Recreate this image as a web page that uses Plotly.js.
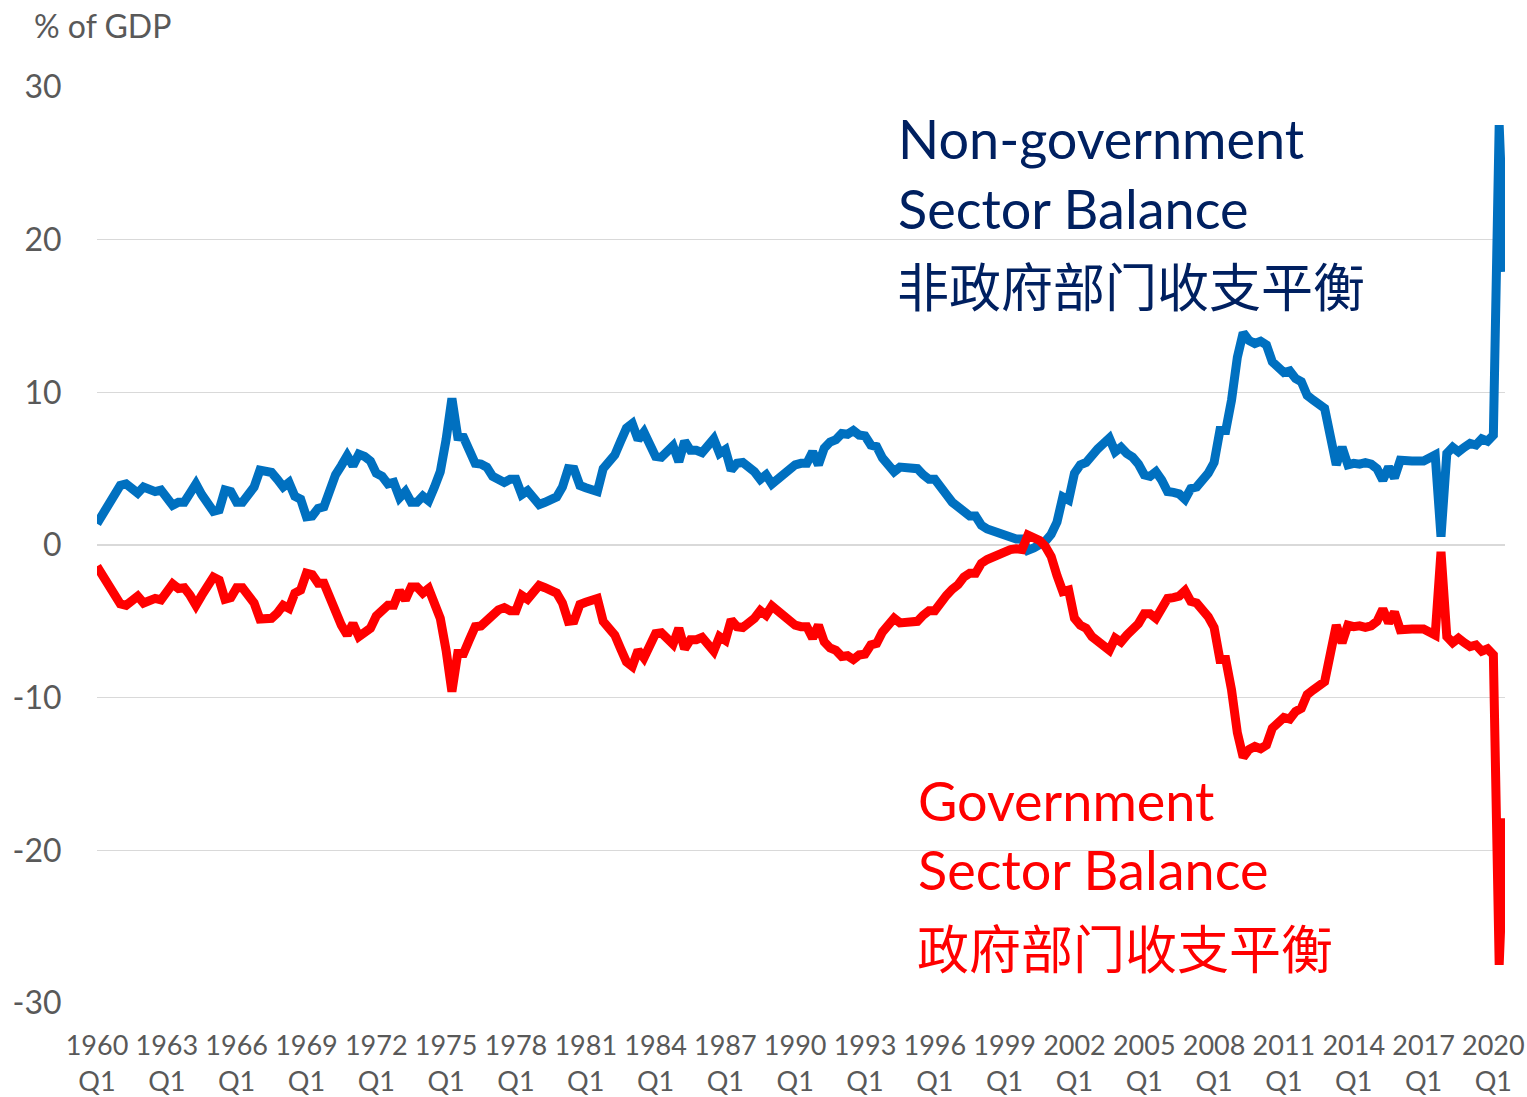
<!DOCTYPE html>
<html>
<head>
<meta charset="utf-8">
<script src="https://cdn.plot.ly/plotly-3.0.1.min.js"></script>
<style>html,body{margin:0;padding:0;background:#fff;}#chart{width:1527px;height:1097px;}</style>
</head>
<body>
<div id="chart"></div>
<script>
// Quarterly categories 1960 Q1 .. 2020 Q3
var quarters = [];
for (var yr = 1960; yr <= 2020; yr++) {
  for (var q = 1; q <= 4; q++) {
    if (quarters.length < 243) quarters.push(yr + " Q" + q);
  }
}

// Non-government sector balance, % of GDP
var nonGovBalance = [
  1.4, 2.1, 2.6, 3.3, 3.9, 4.0, 3.7, 3.4, 3.8, 3.7, 3.5, 3.6,
  3.1, 2.6, 2.8, 2.8, 3.4, 4.0, 3.3, 2.8, 2.2, 2.3, 3.6, 3.5,
  2.8, 2.8, 3.4, 3.8, 4.9, 4.8, 4.75, 4.3, 3.8, 4.1, 3.2, 3.0,
  1.85, 1.9, 2.4, 2.5, 3.6, 4.6, 5.2, 5.85, 5.2, 5.95, 5.8, 5.5,
  4.7, 4.5, 4.0, 4.1, 3.1, 3.5, 2.8, 2.8, 3.2, 2.9, 3.8, 4.8,
  6.9, 9.6, 7.1, 7.05, 6.2, 5.35, 5.3, 5.1, 4.5, 4.25, 4.1, 4.3,
  4.3, 3.3, 3.55, 3.1, 2.65, 2.8, 3.05, 3.15, 3.8, 5.0, 4.95, 3.9,
  3.75, 3.6, 3.5, 5.0, 5.55, 5.9, 6.8, 7.65, 7.95, 6.9, 7.4, 6.65,
  5.8, 5.75, 6.2, 6.5, 5.45, 6.8, 6.2, 6.2, 6.05, 6.55, 6.95, 6.0,
  6.25, 4.9, 5.35, 5.4, 5.1, 4.8, 4.3, 4.6, 4.0, 4.3, 4.6, 4.9,
  5.25, 5.35, 5.35, 6.1, 5.25, 6.35, 6.75, 6.9, 7.3, 7.25, 7.5, 7.2,
  7.15, 6.55, 6.45, 5.7, 5.25, 4.8, 5.1, 5.05, 5.0, 5.0, 4.6, 4.3,
  4.3, 3.7, 3.3, 2.8, 2.5, 2.1, 1.9, 1.9, 1.3, 1.05, 0.9, 0.7,
  0.6, 0.45, 0.4, 0.4, -0.35, -0.2, 0.0, 0.25, 0.7, 1.5, 3.15, 2.95,
  4.7, 5.25, 5.4, 5.9, 6.3, 6.65, 7.0, 6.1, 6.4, 6.0, 5.75, 5.3,
  4.6, 4.5, 4.8, 4.25, 3.5, 3.45, 3.35, 3.0, 3.7, 3.8, 4.2, 4.7,
  5.4, 7.5, 7.5, 9.5, 12.3, 13.9, 13.4, 13.2, 13.35, 13.1, 12.0, 11.6,
  11.3, 11.4, 10.9, 10.7, 9.8, 9.5, 9.2, 8.95, 7.1, 5.25, 6.4, 5.25,
  5.35, 5.3, 5.4, 5.3, 5.0, 4.25, 5.1, 4.4, 5.55, 5.45, 5.5, 5.5,
  5.5, 5.7, 5.9, 0.55, 6.0, 6.4, 6.1, 6.4, 6.65, 6.55, 6.95, 6.8,
  7.2, 27.5, 17.9
];

// Government sector balance, % of GDP
var govBalance = [
  -1.4, -2.0, -2.5, -3.3, -3.85, -3.95, -3.6, -3.35, -3.8, -3.7, -3.5, -3.6,
  -3.05, -2.55, -2.85, -2.8, -3.3, -3.95, -3.3, -2.75, -2.1, -2.3, -3.55, -3.45,
  -2.8, -2.8, -3.3, -3.8, -4.85, -4.85, -4.8, -4.45, -3.95, -4.15, -3.15, -2.95,
  -1.85, -1.95, -2.5, -2.5, -3.5, -4.5, -5.25, -5.9, -5.15, -6.0, -5.8, -5.45,
  -4.65, -4.3, -3.95, -3.95, -3.0, -3.6, -2.75, -2.75, -3.15, -2.85, -3.7, -4.8,
  -6.9, -9.6, -7.1, -7.1, -6.2, -5.35, -5.3, -4.9, -4.5, -4.25, -4.1, -4.3,
  -4.3, -3.3, -3.55, -3.1, -2.65, -2.8, -3.05, -3.15, -3.8, -5.0, -4.95, -3.9,
  -3.75, -3.6, -3.5, -5.0, -5.55, -5.9, -6.8, -7.65, -7.95, -6.9, -7.4, -6.65,
  -5.8, -5.75, -6.2, -6.5, -5.45, -6.8, -6.2, -6.2, -6.05, -6.55, -6.95, -6.0,
  -6.25, -4.9, -5.35, -5.4, -5.1, -4.8, -4.3, -4.6, -4.0, -4.3, -4.6, -4.9,
  -5.25, -5.35, -5.35, -6.1, -5.25, -6.35, -6.75, -6.9, -7.3, -7.25, -7.5, -7.2,
  -7.15, -6.55, -6.45, -5.7, -5.25, -4.8, -5.1, -5.05, -5.0, -5.0, -4.6, -4.3,
  -4.3, -3.7, -3.3, -2.9, -2.6, -2.1, -1.85, -1.85, -1.2, -0.95, -0.75, -0.55,
  -0.4, -0.3, -0.25, -0.3, 0.65, 0.5, 0.3, -0.1, -0.75, -2.0, -3.05, -2.95,
  -4.8, -5.25, -5.45, -6.0, -6.3, -6.55, -6.9, -6.1, -6.35, -5.9, -5.6, -5.15,
  -4.5, -4.5, -4.8, -4.25, -3.5, -3.45, -3.35, -3.0, -3.7, -3.8, -4.2, -4.7,
  -5.4, -7.5, -7.5, -9.5, -12.3, -13.9, -13.4, -13.2, -13.35, -13.1, -12.0, -11.6,
  -11.3, -11.4, -10.9, -10.7, -9.8, -9.5, -9.2, -8.95, -7.1, -5.25, -6.4, -5.25,
  -5.35, -5.3, -5.4, -5.3, -5.0, -4.2, -5.1, -4.4, -5.55, -5.45, -5.5, -5.5,
  -5.5, -5.7, -5.9, -0.45, -6.0, -6.4, -6.1, -6.4, -6.65, -6.55, -6.95, -6.8,
  -7.2, -27.5, -17.9
];

// X tick labels (every 3 years, Q1)
var tickCats = ["1960 Q1","1963 Q1","1966 Q1","1969 Q1","1972 Q1","1975 Q1","1978 Q1",
  "1981 Q1","1984 Q1","1987 Q1","1990 Q1","1993 Q1","1996 Q1","1999 Q1","2002 Q1",
  "2005 Q1","2008 Q1","2011 Q1","2014 Q1","2017 Q1","2020 Q1"];
var tickLabels = ["1960<br>Q1","1963<br>Q1","1966<br>Q1","1969<br>Q1","1972<br>Q1","1975<br>Q1","1978<br>Q1",
  "1981<br>Q1","1984<br>Q1","1987<br>Q1","1990<br>Q1","1993<br>Q1","1996<br>Q1","1999<br>Q1","2002<br>Q1",
  "2005<br>Q1","2008<br>Q1","2011<br>Q1","2014<br>Q1","2017<br>Q1","2020<br>Q1"];

// Y tick values and labels
var yTicks = [-30, -20, -10, 0, 10, 20, 30];
var yTickLabels = ["-30", "-20", "-10", "0", "10", "20", "30"];

var latin = "Lato, 'Noto Sans', sans-serif";
var cjk = "'Noto Sans CJK SC', 'Noto Sans', sans-serif";
var gray = "#595959";
var navy = "#002060";
var red = "#FF0000";

var traces = [
  {x: quarters, y: nonGovBalance, type: "scatter", mode: "lines",
   line: {color: "#0070C0", width: 9}, hoverinfo: "skip", name: "Non-government"},
  {x: quarters, y: govBalance, type: "scatter", mode: "lines",
   line: {color: "#FF0000", width: 9}, hoverinfo: "skip", name: "Government"}
];

var layout = {
  width: 1527, height: 1097,
  margin: {l: 97, r: 22, t: 87, b: 94, pad: 0},
  paper_bgcolor: "#ffffff", plot_bgcolor: "#ffffff",
  showlegend: false,
  xaxis: {
    type: "category", range: [0, 242],
    tickmode: "array", tickvals: tickCats, ticktext: tickLabels,
    tickangle: 0, showgrid: false, zeroline: false, showline: false,
    ticks: "outside", ticklen: 19, tickcolor: "rgba(0,0,0,0)",
    tickfont: {family: latin, size: 27, color: gray}
  },
  yaxis: {
    range: [-30, 30], tickmode: "array", tickvals: yTicks, ticktext: yTickLabels,
    showgrid: true, gridcolor: "#D9D9D9", gridwidth: 1.5,
    zeroline: false, showline: false,
    ticks: "outside", ticklen: 28, tickcolor: "rgba(0,0,0,0)",
    tickfont: {family: latin, size: 32, color: gray}
  },
  annotations: [
    {text: "% of GDP", xref: "paper", yref: "paper", x: -0.046, y: 1.0666,
     xanchor: "left", yanchor: "middle", showarrow: false,
     font: {family: latin, size: 32, color: gray}},
    {text: "Non-government", xref: "paper", yref: "paper", x: 0.5675, y: 0.9443,
     xanchor: "left", yanchor: "middle", showarrow: false,
     font: {family: latin, size: 54, color: navy}},
    {text: "Sector Balance", xref: "paper", yref: "paper", x: 0.5675, y: 0.8679,
     xanchor: "left", yanchor: "middle", showarrow: false,
     font: {family: latin, size: 54, color: navy}},
    {text: "非政府部门收支平衡", xref: "paper", yref: "paper", x: 0.5665, y: 0.7840,
     xanchor: "left", yanchor: "middle", showarrow: false,
     font: {family: cjk, size: 52, color: navy}},
    {text: "Government", xref: "paper", yref: "paper", x: 0.5817, y: 0.2216,
     xanchor: "left", yanchor: "middle", showarrow: false,
     font: {family: latin, size: 54, color: red}},
    {text: "Sector Balance", xref: "paper", yref: "paper", x: 0.5817, y: 0.1452,
     xanchor: "left", yanchor: "middle", showarrow: false,
     font: {family: latin, size: 54, color: red}},
    {text: "政府部门收支平衡", xref: "paper", yref: "paper", x: 0.5807, y: 0.0620,
     xanchor: "left", yanchor: "middle", showarrow: false,
     font: {family: cjk, size: 52, color: red}}
  ]
};

Plotly.newPlot("chart", traces, layout, {displayModeBar: false, staticPlot: true});
</script>
</body>
</html>
